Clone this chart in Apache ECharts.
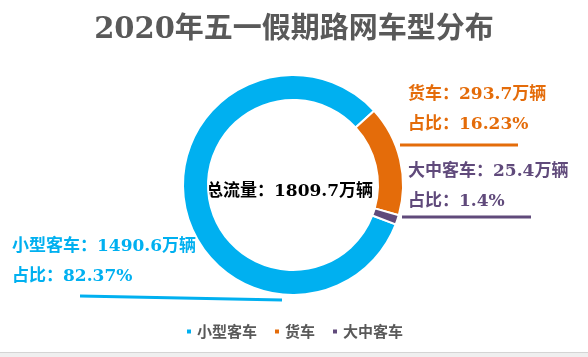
<!DOCTYPE html>
<html>
<head>
<meta charset="utf-8">
<script src="https://cdn.jsdelivr.net/npm/echarts@6/dist/echarts.min.js"></script>
<style>
html,body{margin:0;padding:0;background:#fff;}
#main{width:588px;height:357px;}
</style>
</head>
<body>
<div id="main"></div>
<script>
// ---- data ----
const titleText = '2020年五一假期路网车型分布';
const categories = ['小型客车', '货车', '大中客车'];
const values = [1490.6, 293.7, 25.4];
const unit = '万辆';
const totalLabel = '总流量';

// ---- styles / layout ----
const colors = ['#00B0F0', '#E46C0A', '#604A7B'];
const serifFont = '"DejaVu Serif","Noto Sans CJK SC",serif';
const labelPlacement = [
  { x: 12, y: 232, line: [[282, 300], [181, 298], [80, 296]] },
  { x: 408, y: 80, line: [[400, 145], [459, 145], [518, 145]] },
  { x: 408, y: 157, line: [[402, 217], [466, 217], [531, 217]] }
];

const total = values.reduce((a, b) => a + b, 0);

const chart = echarts.init(document.getElementById('main'), null, { renderer: 'canvas' });
chart.setOption({
  animation: false,
  color: colors,
  title: {
    text: titleText,
    left: 'center',
    top: 11,
    textStyle: { fontSize: 29, fontWeight: 'bold', color: '#595959', fontFamily: serifFont }
  },
  legend: {
    data: categories,
    left: 'center',
    top: 319,
    icon: 'rect',
    itemWidth: 6,
    itemHeight: 6,
    itemGap: 16,
    textStyle: { fontSize: 15, color: '#595959', fontWeight: 'bold', fontFamily: '"Noto Sans CJK SC",sans-serif' }
  },
  graphic: [
    {
      type: 'text',
      left: 206,
      top: 183,
      style: {
        text: totalLabel + '：' + total.toFixed(1) + unit,
        fill: '#000',
        font: 'bold 17px ' + serifFont
      }
    },
    { type: 'rect', shape: { x: 0, y: 352, width: 588, height: 5 }, style: { fill: '#efefef' }, silent: true },
    { type: 'line', shape: { x1: 0, y1: 352.5, x2: 588, y2: 352.5 }, style: { stroke: '#d4d4d4', lineWidth: 1 }, silent: true }
  ],
  series: [{
    type: 'pie',
    center: [293, 185],
    radius: [85, 110],
    startAngle: -21,
    avoidLabelOverlap: false,
    itemStyle: { borderColor: '#fff', borderWidth: 2 },
    label: {
      show: true,
      position: 'outside',
      formatter: function (p) {
        return '{a|' + p.name + '：' + p.value + unit + '}\n{a|占比：' + p.percent + '%}';
      },
      color: 'inherit',
      rich: {
        a: { fontSize: 17, fontWeight: 'bold', fontFamily: serifFont, lineHeight: 30 }
      }
    },
    labelLine: { show: true, lineStyle: { width: 3 } },
    labelLayout: function (params) {
      const pl = labelPlacement[params.dataIndex];
      return { x: pl.x, y: pl.y, align: 'left', verticalAlign: 'top', labelLinePoints: pl.line };
    },
    data: categories.map((c, i) => ({ name: c, value: values[i] }))
  }]
});
</script>
</body>
</html>
